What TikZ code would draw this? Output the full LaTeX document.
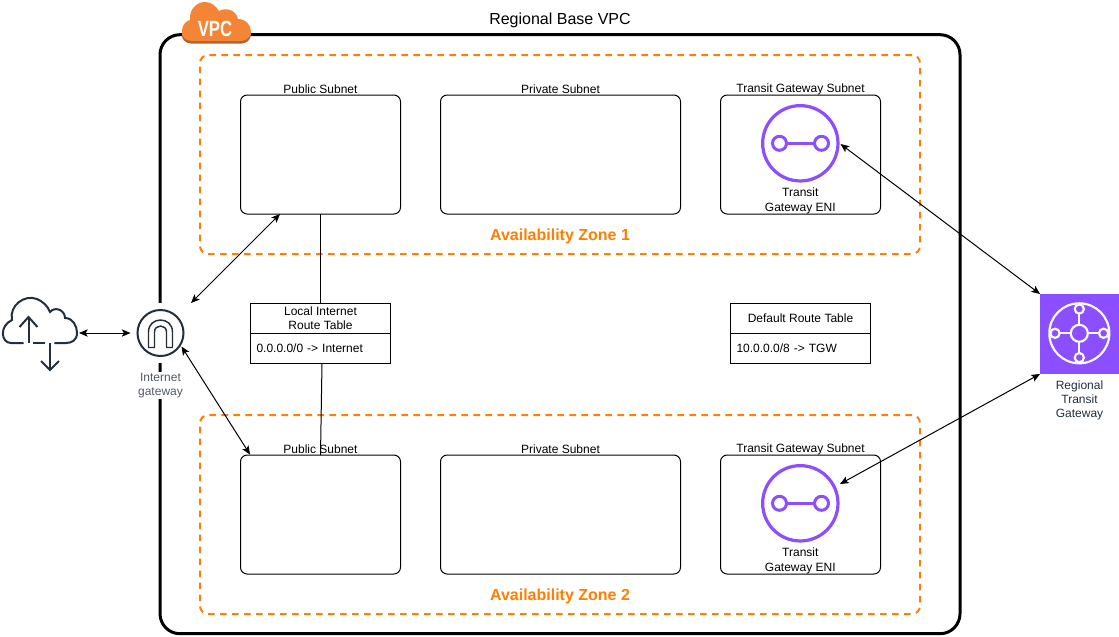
\documentclass[tikz,border=0pt]{standalone}
\usepackage{fontspec}
\setmainfont{Liberation Sans}
\usetikzlibrary{positioning,arrows.meta}

\definecolor{zoneorange}{HTML}{FF8000}
\definecolor{vpcorange}{HTML}{F58536}
\definecolor{vpcshade}{HTML}{B4622B}
\definecolor{tgwpurple}{HTML}{8C4FFF}
\definecolor{awsdark}{HTML}{232F3E}
\definecolor{awsgrey}{HTML}{545B64}

\newcommand{\vpcblob}{(192,41) .. controls (185,41) and (181,36) .. (182,31) .. controls (182,25) and (186,21) .. (190,20) .. controls (189,9) and (197,2) .. (205,2) .. controls (211,2) and (216,6) .. (219,11) .. controls (226,7) and (236,10) .. (238,19) .. controls (246,19) and (251,25) .. (251,32) .. controls (251,37) and (246,41) .. (241,41) -- cycle}

\tikzset{
  x=.75pt, y=-.75pt,
  every node/.style={inner sep=0pt, outer sep=0pt},
  small/.style={font=\fontsize{9}{10.5}\selectfont, align=center},
  subnet/.style={draw, line width=.75pt, rounded corners=5pt, minimum width=120pt, minimum height=89.25pt},
  zone/.style={draw=zoneorange, line width=1.5pt, rounded corners=6pt, dash pattern=on 5pt off 4pt, minimum width=540pt, minimum height=149.25pt},
  zonelabel/.style={text=zoneorange, font=\fontsize{12}{14}\bfseries\selectfont},
  routebox/.style={draw, line width=.75pt, minimum width=105pt, minimum height=22.5pt, small},
  routerow/.style={routebox, text width=96pt, align=left},
  link/.style={line width=.75pt, {Stealth[length=6.5pt,width=5.5pt,inset=1.5pt]}-{Stealth[length=6.5pt,width=5.5pt,inset=1.5pt]}},
  plainlink/.style={line width=.75pt},
  enicircle/.style={draw=tgwpurple, circle, line width=2.4pt, minimum size=56.5pt},
  eniline/.style={draw=tgwpurple, line width=2.25pt},
  tgwline/.style={draw=white, line width=1.6pt},
  awsline/.style={draw=awsdark, line width=1.5pt},
}

\begin{document}
\begin{tikzpicture}

  \useasboundingbox[fill=white] (0,0) rectangle (1119,636);

  % VPC frame
  \node[draw, line width=2.25pt, rounded corners=15pt, minimum width=600pt, minimum height=449.25pt] (vpc) at (560,334.2) {};
  \node[font=\fontsize{12}{14}\selectfont] (vpctitle) at (560,20) {Regional Base VPC};

  % VPC badge
  \fill[vpcshade, yshift=-2pt] \vpcblob;
  \fill[vpcorange] \vpcblob;
  \node[text=white, font=\fontsize{16.5}{18}\bfseries\selectfont, xscale=.76, transform shape] (vpcbadge) at (215,29) {VPC};

  % Availability zones
  \node[zone] (zone1) at (560,154.5) {};
  \node[zone] (zone2) at (560,514.5) {};
  \node[zonelabel] (zone1t) at (560,236) {Availability Zone 1};
  \node[zonelabel] (zone2t) at (560,596) {Availability Zone 2};

  % Subnets
  \node[subnet] (pub1) at (320.5,154.5) {};
  \node[subnet, right=30pt of pub1, minimum width=180pt] (priv1) {};
  \node[subnet, right=30pt of priv1] (tgws1) {};
  \node[subnet] (pub2) at (320.5,514.5) {};
  \node[subnet, right=30pt of pub2, minimum width=180pt] (priv2) {};
  \node[subnet, right=30pt of priv2] (tgws2) {};

  % Route tables
  \node[routebox] (localhead) at (320.5,318) {Local Internet\\Route Table};
  \node[routerow, below=0pt of localhead] (localrow) {0.0.0.0/0 -> Internet};
  \node[routebox] (defhead) at (800.5,318) {Default Route Table};
  \node[routerow, below=0pt of defhead] (defrow) {10.0.0.0/8 -> TGW};

  % Subnet labels
  \foreach \n in {1,2} {
    \node[small] (pub\n t) at ([yshift=4.5pt]pub\n.north) {Public Subnet};
    \node[small] (priv\n t) at ([yshift=4.5pt]priv\n.north) {Private Subnet};
    \node[small] (tgws\n t) at ([yshift=4.1pt]tgws\n.north) {Transit Gateway Subnet};
  }

  % Transit gateway ENIs
  \foreach \n/\y in {1/143.3,2/503.3} {
    \node[enicircle] (eni\n) at (800.3,\y) {};
    \draw[eniline] (779.5,\y) circle[radius=7];
    \draw[eniline] (821.5,\y) circle[radius=7];
    \draw[eniline] (786.5,\y) -- (814.5,\y);
    \node[small, below=5pt of eni\n] (eni\n t) {Transit\\[.8pt]Gateway ENI};
  }

  % Regional transit gateway
  \node[fill=tgwpurple, minimum width=59.25pt, minimum height=60pt] (tgw) at (1079.5,334) {};
  \draw[tgwline] (1079.3,333.3) circle[radius=30];
  \draw[tgwline] (1079.3,333.3) circle[radius=8.5];
  \foreach \a/\b in {1/0,-1/0,0/1,0/-1} {
    \draw[tgwline] (1079.3+24.3*\a,333.3+24.3*\b) circle[radius=4.6];
    \draw[tgwline] (1079.3+8.5*\a,333.3+8.5*\b) -- (1079.3+19.7*\a,333.3+19.7*\b);
  }
  \node[small, text=awsdark, below=5pt of tgw] (tgwt) {Regional\\Transit\\Gateway};

  % Internet gateway
  \node[fill=white, minimum size=45pt] (igw) at (160.5,333) {};
  \draw[awsline] (160.5,333) circle[radius=23];
  \draw[draw=awsdark, line width=1.1pt, line join=round] (148.5,347.5) -- (148.5,332) .. controls (148.5,316) and (172.5,316) .. (172.5,332) -- (172.5,347.5) -- (166.5,347.5) -- (166.5,332) .. controls (166.5,324) and (154.5,324) .. (154.5,332) -- (154.5,347.5) -- cycle;
  \node[small, fill=white, text=awsgrey, below=6.5pt of igw, inner ysep=1pt] (igwt) {Internet\\gateway};

  % Internet cloud
  \node[minimum width=58.5pt, minimum height=54pt] (cloud) at (40,333) {};
  \draw[awsline, line cap=round] (23,343) -- (11,343) .. controls (1,343) and (-1,326) .. (12,320) .. controls (9,306) and (24,294) .. (37,299) .. controls (42,301) and (48,306) .. (50,312) .. controls (55,306) and (65,310) .. (65,318) .. controls (73,318) and (77,326) .. (77,333) .. controls (77,340) and (72,343) .. (66,343) -- (55,343);
  \draw[awsline] (33,343) -- (45,343);
  \draw[awsline] (28.5,343) -- (28.5,317);
  \draw[awsline] (19.5,327) -- (28.5,317) -- (37.5,327);
  \draw[awsline] (50,343) -- (50,370);
  \draw[awsline] (41,361) -- (50,370) -- (59,361);

  % Free ends of the diagonal links
  \coordinate (igwup) at (191,303);
  \coordinate (igwdown) at (181.5,346.5);
  \coordinate (pub1end) at (280,214);
  \coordinate (pub2end) at (250,454.5);
  \coordinate (eni1end) at (840.5,144);
  \coordinate (eni2end) at (840,484);

  % Connect the nodes
  \draw[plainlink] (pub1.south) -- (localhead.north);
  \draw[plainlink] (localrow.south -| 322,0) -- (pub2.north);
  \draw[link] (cloud.east) -- (igw.west);
  \draw[link] (igwup) -- (pub1end);
  \draw[link] (igwdown) -- (pub2end);
  \draw[link] (eni1end) -- (tgw.north west);
  \draw[link] (eni2end) -- (tgw.south west);

\end{tikzpicture}
\end{document}
